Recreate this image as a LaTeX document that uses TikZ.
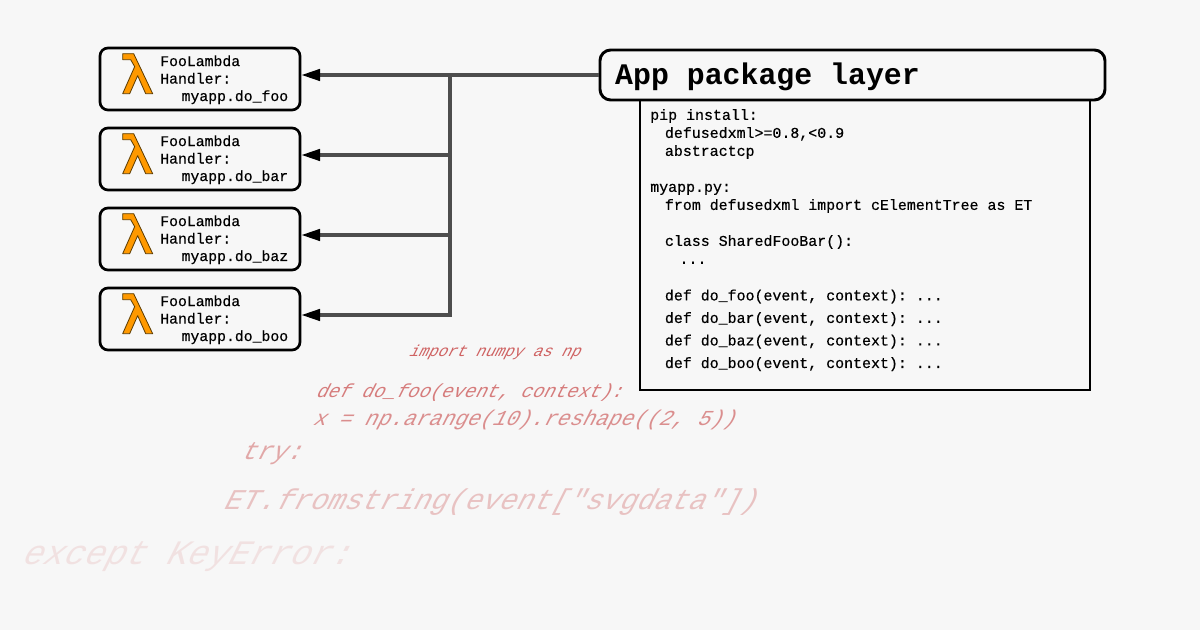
\documentclass[tikz,border=0pt]{standalone}
\usepackage{fontspec}
\setmonofont{Liberation Mono}
\usetikzlibrary{arrows.meta,positioning}

\definecolor{bgcol}{HTML}{F7F7F7}
\definecolor{lambdaorange}{HTML}{FF9900}
\definecolor{lambdaedge}{HTML}{5A3A00}
\definecolor{linkgray}{HTML}{4D4D4D}
\definecolor{ghostred}{HTML}{C84848}

\newcommand\titlesp{\hspace*{0.6em}}

\tikzset{
  fnbox/.style={draw,line width=2pt,rounded corners=6pt,minimum width=150pt,minimum height=46.5pt,inner sep=0pt},
  fntext/.style={anchor=base west,align=left,inner sep=0pt,font=\ttfamily\addfontfeatures{FakeBold=0.4}\fontsize{11.1}{13.1}\selectfont},
  lambda/.style={fill=lambdaorange,draw=lambdaedge,line width=0.6pt,line join=round},
  pkgbox/.style={draw,fill=bgcol,line width=2.2pt,rounded corners=8pt,minimum width=378.75pt,minimum height=37.5pt,
    text width=356pt,inner xsep=11pt,align=left,text height=17pt,text depth=3pt,
    font=\ttfamily\bfseries\fontsize{22.4}{24}\selectfont},
  codebox/.style={draw,line width=2.2pt,minimum width=337.5pt,minimum height=217.5pt,inner sep=0pt},
  codetext/.style={anchor=base west,align=left,inner sep=0pt,font=\ttfamily\addfontfeatures{FakeBold=0.4}\fontsize{11.2}{13.5}\selectfont},
  link/.style={draw=linkgray,line width=2.5pt},
  ghost/.style={anchor=base west,inner sep=0pt,xslant=0.5,text=ghostred},
}

\begin{document}
\begin{tikzpicture}[x=0.75pt,y=-0.75pt]
\path[fill=bgcol] (0,0) rectangle (1200,630);
\useasboundingbox (0,0) rectangle (1200,630);

% faded code in the background
\path (408,357) node(ghost1)[ghost,text opacity=0.85,font=\ttfamily\fontsize{11.9}{12}\selectfont] {import numpy as np};
\path (315,398) node(ghost2)[ghost,text opacity=0.7,font=\ttfamily\fontsize{14.2}{15}\selectfont] {def do\_foo(event, context):};
\path (312,426) node(ghost3)[ghost,text opacity=0.6,font=\ttfamily\fontsize{16}{17}\selectfont] {x = np.arange(10).reshape((2, 5))};
\path (240,460) node(ghost4)[ghost,text opacity=0.45,font=\ttfamily\fontsize{19}{20}\selectfont] {try:};
\path (222,510) node(ghost5)[ghost,text opacity=0.3,font=\ttfamily\fontsize{21.5}{22}\selectfont] {ET.fromstring(event["svgdata"])};
\path (20,565) node(ghost6)[ghost,text opacity=0.12,font=\ttfamily\fontsize{25.7}{26}\selectfont] {except KeyError:};

% lambda functions
\foreach \i/\fn in {1/foo,2/bar,3/baz,4/boo}{
  \path (200,{79+80*(\i-1)}) node(fn\i)[fnbox] {};
  \path (160,{101+80*(\i-1)}) node(fn\i t)[fntext] {FooLambda\\Handler:\\\hspace*{16pt}myapp.do\_\fn};
  \begin{scope}[shift={(fn\i.north west)}]
    \draw[lambda] (24,7) -- (35,7) -- (54,47) -- (47,47) -- (39,29) -- (31,47)
      -- (24,47) -- (36,20) -- (32,13) -- (24,13) -- cycle;
  \end{scope}
}

% package layer
\path (865,245) node(code)[codebox] {};
\path (852.5,75) node(pkg)[pkgbox] {App\titlesp package\titlesp layer};
\path (650,368) node(codet)[codetext] {pip install:\\
  \hspace*{11pt}defusedxml>=0.8,<0.9\\
  \hspace*{11pt}abstractcp\\[13.5pt]
  myapp.py:\\
  \hspace*{11pt}from defusedxml import cElementTree as ET\\[13.5pt]
  \hspace*{11pt}class SharedFooBar():\\
  \hspace*{22pt}...\\[13.9pt]
  \hspace*{11pt}def do\_foo(event, context): ...\\[3.4pt]
  \hspace*{11pt}def do\_bar(event, context): ...\\[3.4pt]
  \hspace*{11pt}def do\_baz(event, context): ...\\[3.4pt]
  \hspace*{11pt}def do\_boo(event, context): ...};

% connectors
\coordinate (hub) at (450,75);
\draw[link] (pkg.west) -- (hub);
\foreach \i in {1,...,4}
  \draw[link,-{Triangle[length=14pt,width=8.5pt,color=black]}] (hub) |- ([yshift=3pt]fn\i.east);
\end{tikzpicture}
\end{document}
